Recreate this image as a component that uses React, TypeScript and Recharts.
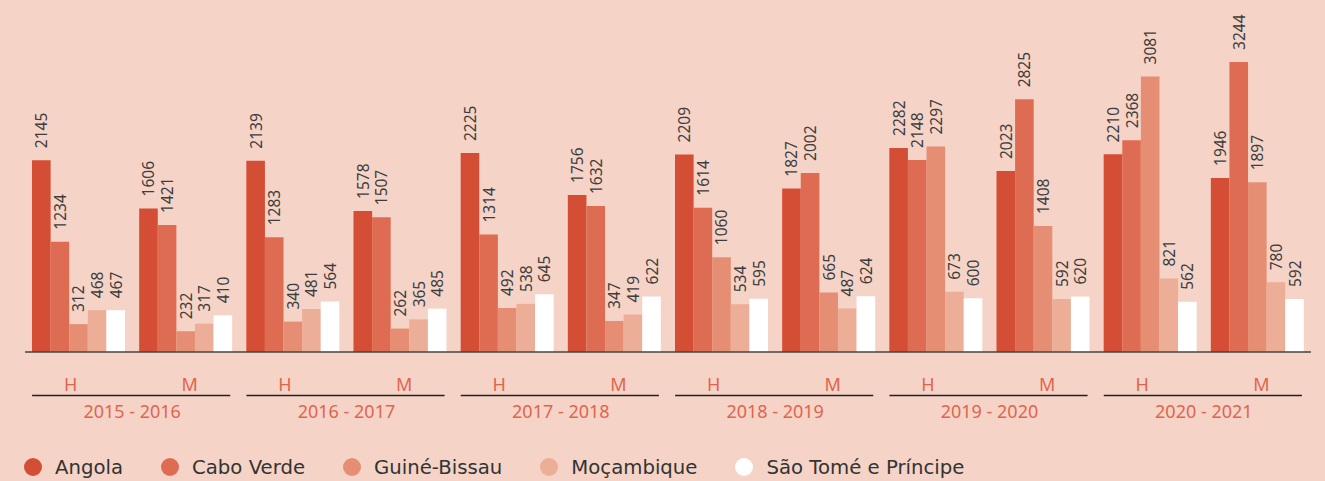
import { Bar, BarChart, LabelList, XAxis, YAxis } from 'recharts';

const sexes = ['H', 'M', 'H', 'M', 'H', 'M', 'H', 'M', 'H', 'M', 'H', 'M'];
const years = ['2015 - 2016', '2016 - 2017', '2017 - 2018', '2018 - 2019', '2019 - 2020', '2020 - 2021'];

const angola = [2145, 1606, 2139, 1578, 2225, 1756, 2209, 1827, 2282, 2023, 2210, 1946];
const caboVerde = [1234, 1421, 1283, 1507, 1314, 1632, 1614, 2002, 2148, 2825, 2368, 3244];
const guineBissau = [312, 232, 340, 262, 492, 347, 1060, 665, 2297, 1408, 3081, 1897];
const mocambique = [468, 317, 481, 365, 538, 419, 534, 487, 673, 592, 821, 780];
const saoTome = [467, 410, 564, 485, 645, 622, 595, 624, 600, 620, 562, 592];

const series = [
  { key: 'angola', name: 'Angola', color: '#d44e35', values: angola },
  { key: 'caboVerde', name: 'Cabo Verde', color: '#de6c53', values: caboVerde },
  { key: 'guineBissau', name: 'Guiné-Bissau', color: '#e68e73', values: guineBissau },
  { key: 'mocambique', name: 'Moçambique', color: '#edae97', values: mocambique },
  { key: 'saoTome', name: 'São Tomé e Príncipe', color: '#ffffff', values: saoTome },
];

const data = sexes.map((sex, i) => {
  const row: Record<string, string | number> = {
    id: `${years[Math.floor(i / 2)]}-${sex}`,
    sex,
    year: years[Math.floor(i / 2)],
  };
  series.forEach((s) => {
    row[s.key] = s.values[i];
  });
  return row;
});

const BG = '#f5d3c7';
const AXIS_TEXT = '#e0654f';
const NUM_FONT = '"Noto Sans", sans-serif';

function ValueLabel(props: any) {
  const { x, y, width, value } = props;
  const cx = Number(x) + Number(width) / 2;
  const ty = Number(y) - 12;
  return (
    <text
      x={cx}
      y={ty}
      transform={`rotate(-90 ${cx} ${ty})`}
      textAnchor="start"
      dominantBaseline="central"
      fontSize={15.5}
      fontFamily={NUM_FONT}
      fill="#3d3d3d"
    >
      {value}
    </text>
  );
}

function GroupTick(props: any) {
  const { x, index } = props;
  const row = data[index];
  if (!row) return null;
  const isH = row.sex === 'H';
  const band = 1286 / 12;
  return (
    <g>
      <text
        x={x + (isH ? -8 : 4)}
        y={384}
        textAnchor="middle"
        dominantBaseline="central"
        fontSize={18}
        fontFamily={NUM_FONT}
        fill={AXIS_TEXT}
      >
        {row.sex}
      </text>
      {isH && (
        <>
          <line x1={x - 46.5} x2={x + band + 44.5} y1={395.5} y2={395.5} stroke="#222" strokeWidth={1.5} />
          <text
            x={x + band / 2}
            y={411}
            textAnchor="middle"
            dominantBaseline="central"
            fontSize={18}
            fontFamily={NUM_FONT}
            fill={AXIS_TEXT}
          >
            {row.year}
          </text>
        </>
      )}
    </g>
  );
}

export default function App() {
  return (
    <div
      style={{
        position: 'absolute',
        left: 0,
        top: 0,
        width: 1325,
        height: 481,
        background: BG,
        overflow: 'hidden',
      }}
    >
      <BarChart
        width={1325}
        height={481}
        data={data}
        margin={{ top: 39, right: 14, left: 25, bottom: 0 }}
        barSize={18.6}
        barGap={0}
      >
        <XAxis
          dataKey="id"
          height={129}
          interval={0}
          tickLine={false}
          axisLine={{ stroke: '#444', strokeWidth: 1.5 }}
          tick={<GroupTick />}
        />
        <YAxis hide domain={[0, 3500]} />
        {series.map((s) => (
          <Bar key={s.key} dataKey={s.key} name={s.name} fill={s.color} isAnimationActive={false}>
            <LabelList dataKey={s.key} content={<ValueLabel />} />
          </Bar>
        ))}
      </BarChart>
      <div
        style={{
          position: 'absolute',
          left: 24,
          top: 455,
          height: 24,
          display: 'flex',
          alignItems: 'center',
          fontFamily: '"DejaVu Sans", sans-serif',
          fontSize: 19.7,
          color: '#333',
        }}
      >
        {series.map((s) => (
          <div key={s.key} style={{ display: 'flex', alignItems: 'center', marginRight: 38 }}>
            <span
              style={{
                width: 18,
                height: 18,
                borderRadius: 9,
                background: s.color,
                display: 'inline-block',
                marginRight: 13,
              }}
            />
            <span>{s.name}</span>
          </div>
        ))}
      </div>
    </div>
  );
}
